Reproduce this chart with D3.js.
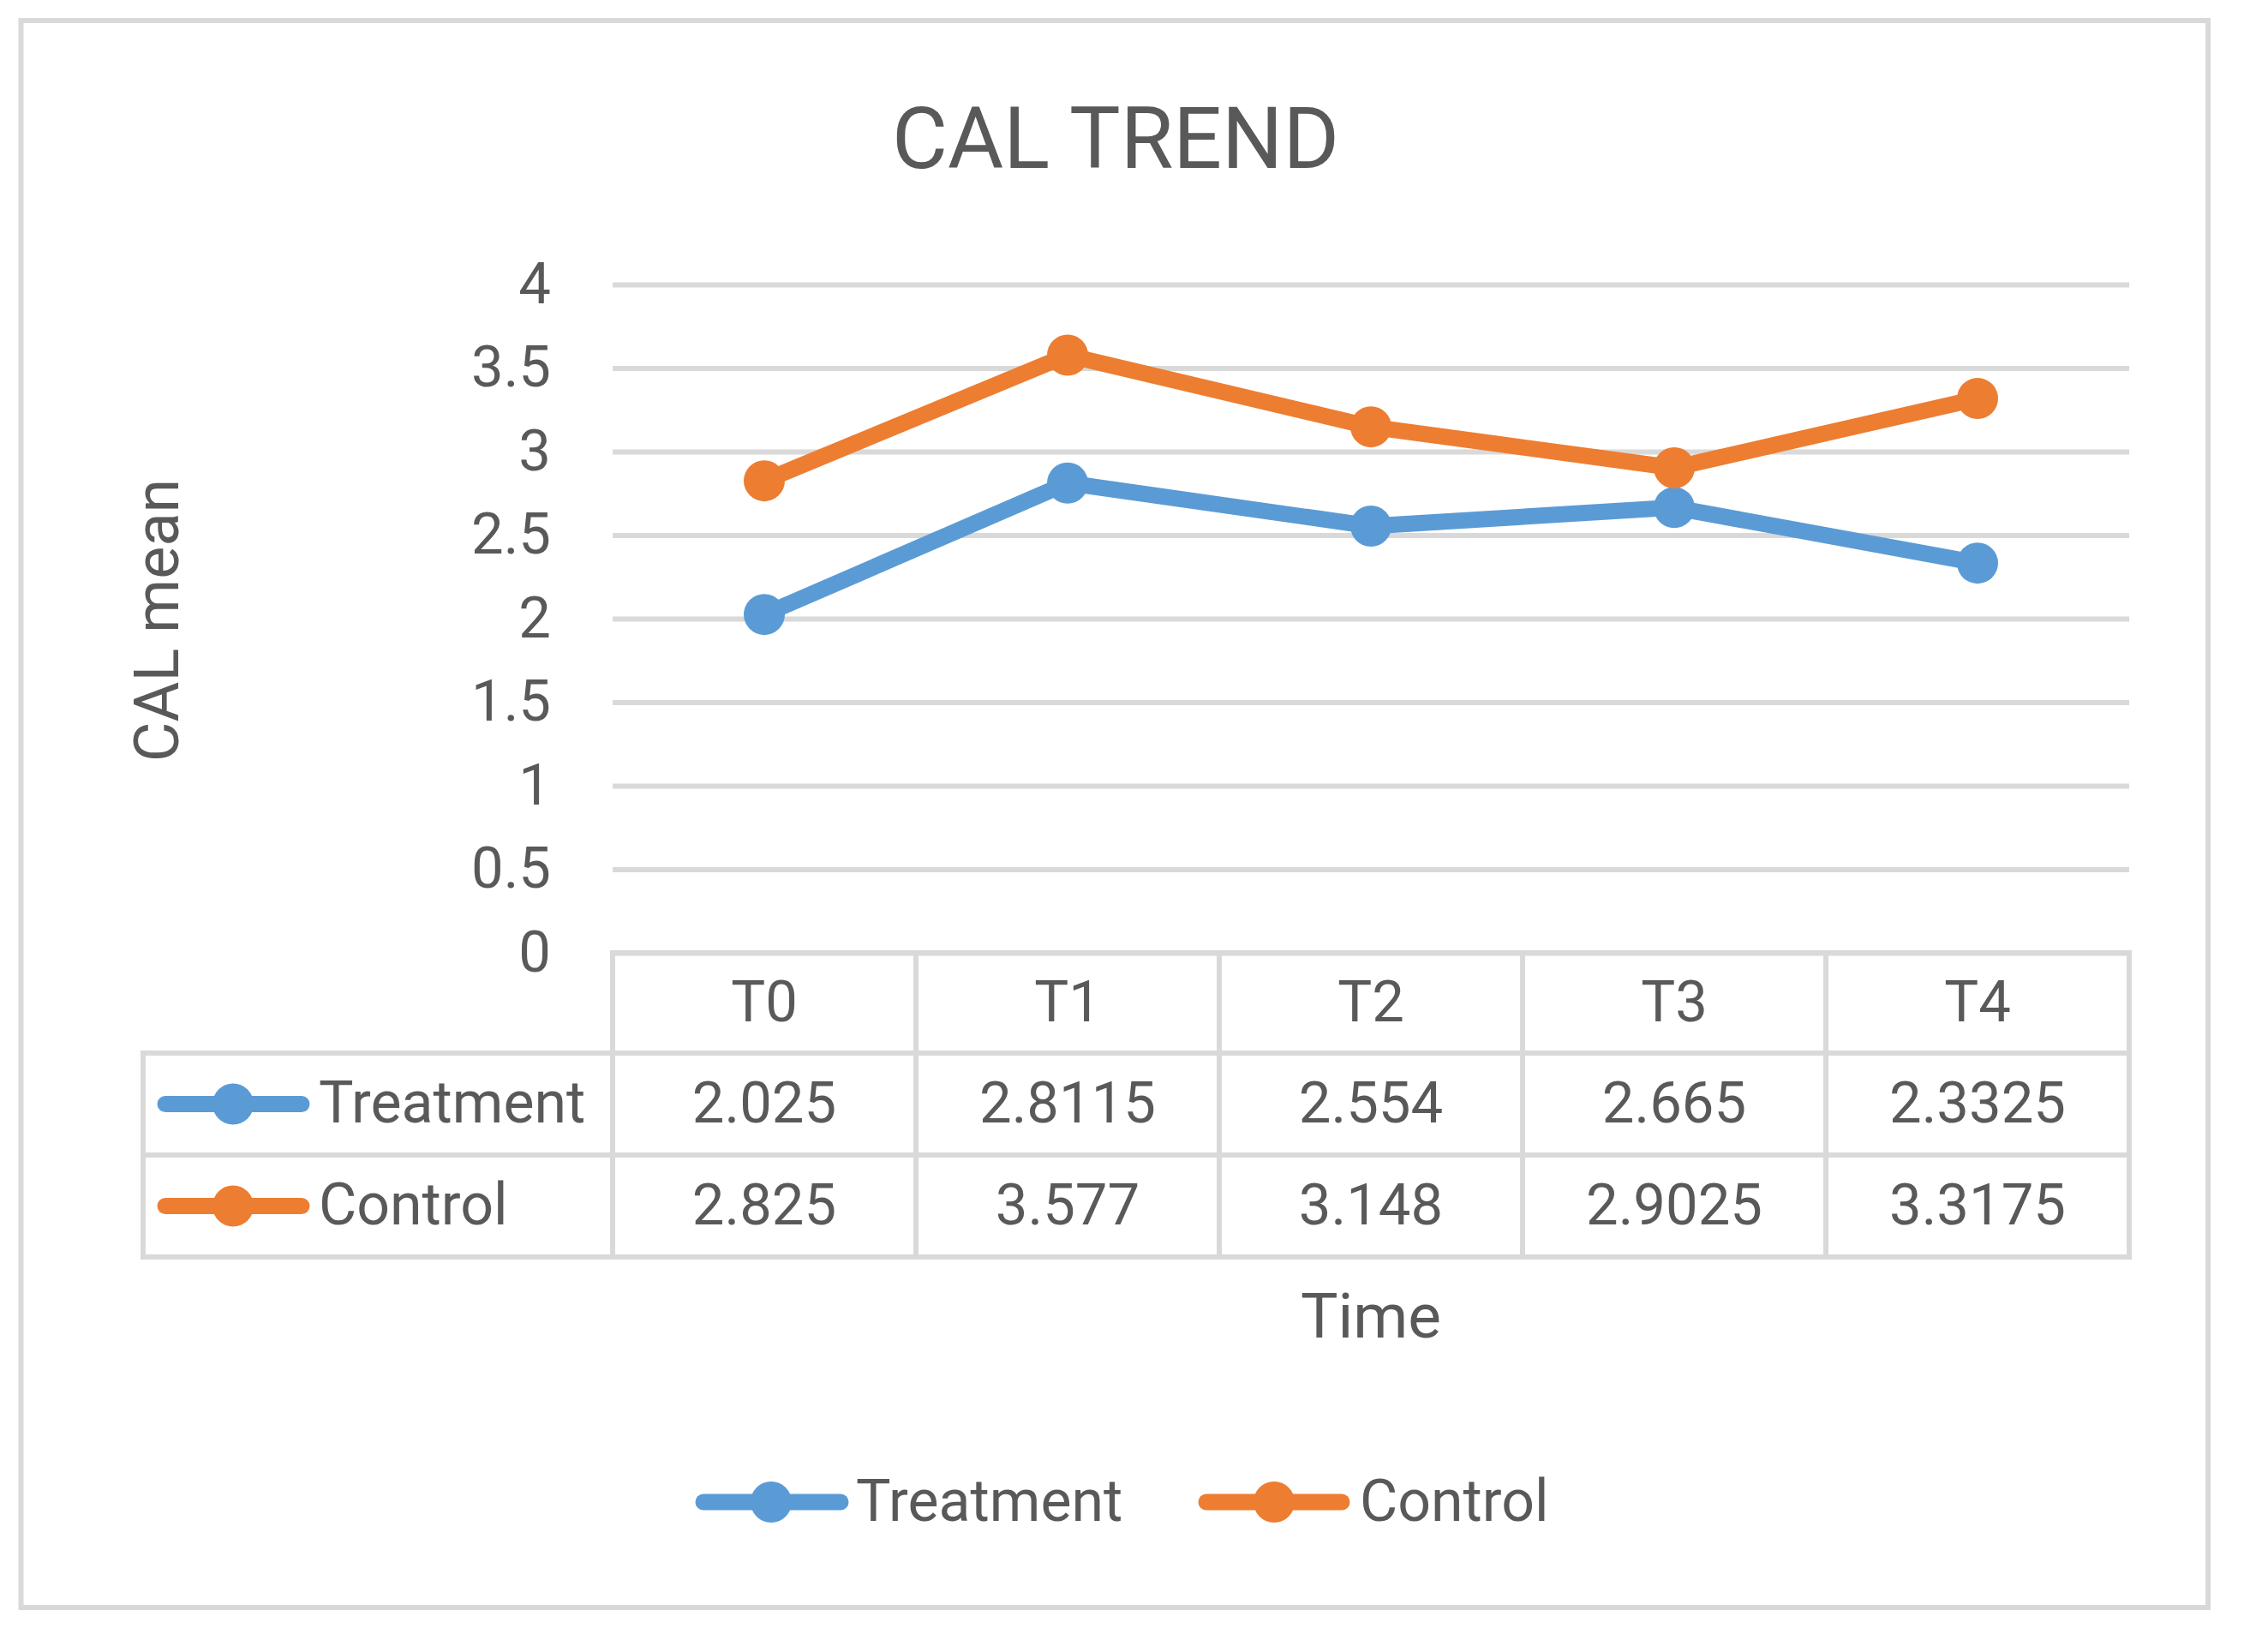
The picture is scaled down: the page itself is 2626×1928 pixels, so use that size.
<!DOCTYPE html>
<html>
<head>
<meta charset="utf-8">
<script src="https://cdn.jsdelivr.net/npm/d3@7/dist/d3.min.js"></script>
<style>
  html, body { margin: 0; padding: 0; background: #ffffff; }
  svg text { font-family: Roboto, "Liberation Sans", sans-serif; fill: #595959; }
</style>
</head>
<body>
<script>
// ---- data ----
const categories = ["T0", "T1", "T2", "T3", "T4"];
const treatmentValues = [2.025, 2.8115, 2.554, 2.665, 2.3325];
const controlValues = [2.825, 3.577, 3.148, 2.9025, 3.3175];
const treatmentLabels = ["2.025", "2.8115", "2.554", "2.665", "2.3325"];
const controlLabels = ["2.825", "3.577", "3.148", "2.9025", "3.3175"];
const seriesNames = ["Treatment", "Control"];
const seriesColors = ["#5B9BD5", "#ED7D31"];
const yTicks = [0, 0.5, 1, 1.5, 2, 2.5, 3, 3.5, 4];
const yTickLabels = ["0", "0.5", "1", "1.5", "2", "2.5", "3", "3.5", "4"];
const chartTitle = "CAL TREND";
const xTitle = "Time";
const yTitle = "CAL mean";

const series = [
  { name: seriesNames[0], color: seriesColors[0], values: treatmentValues, labels: treatmentLabels },
  { name: seriesNames[1], color: seriesColors[1], values: controlValues, labels: controlLabels }
];

// ---- layout ----
const W = 2626, H = 1928;
const plotLeft = 715, plotRight = 2485, plotTop = 332, plotBottom = 1112;
const tableLeft = 167;
const rowEdges = [1112, 1229, 1348, 1467];
const gridColor = "#D9D9D9";
const fontSmall = 67;
const textDy = "0.32em";

const svg = d3.select("body").append("svg")
  .attr("width", W).attr("height", H)
  .attr("viewBox", `0 0 ${W} ${H}`);

svg.append("rect").attr("width", W).attr("height", H).attr("fill", "#ffffff");

// outer border
svg.append("rect")
  .attr("x", 24.5).attr("y", 24).attr("width", 2552.5).attr("height", 1852)
  .attr("fill", "none").attr("stroke", gridColor).attr("stroke-width", 6);

const x = d3.scaleBand().domain(categories).range([plotLeft, plotRight]);
const y = d3.scaleLinear().domain([0, 4]).range([plotBottom, plotTop]);
const cx = c => x(c) + x.bandwidth() / 2;

// gridlines
const grid = svg.append("g").attr("transform", `translate(${plotLeft},0)`)
  .call(d3.axisLeft(y).tickValues(yTicks).tickSize(-(plotRight - plotLeft)).tickFormat(""));
grid.select(".domain").remove();
grid.selectAll(".tick line").attr("stroke", gridColor).attr("stroke-width", 6);

// y axis labels
const yAxis = svg.append("g").attr("transform", `translate(${plotLeft},0)`)
  .call(d3.axisLeft(y).tickValues(yTicks).tickSize(0).tickPadding(72)
    .tickFormat((d, i) => yTickLabels[i]));
yAxis.select(".domain").remove();
yAxis.selectAll(".tick text")
  .attr("font-size", fontSmall)
  .attr("font-family", "Roboto, 'Liberation Sans', sans-serif")
  .attr("fill", "#595959")
  .attr("dy", textDy);

// ---- data table ----
const tbl = svg.append("g");
tbl.append("line").attr("x1", plotLeft - 3).attr("x2", plotRight + 3)
  .attr("y1", rowEdges[0]).attr("y2", rowEdges[0]);
for (let i = 1; i < rowEdges.length; i++) {
  tbl.append("line").attr("x1", tableLeft - 3).attr("x2", plotRight + 3)
    .attr("y1", rowEdges[i]).attr("y2", rowEdges[i]);
}
const colEdges = categories.map(c => x(c)).concat([plotRight]);
colEdges.forEach(v => {
  tbl.append("line").attr("x1", v).attr("x2", v)
    .attr("y1", rowEdges[0]).attr("y2", rowEdges[3]);
});
tbl.append("line").attr("x1", tableLeft).attr("x2", tableLeft)
  .attr("y1", rowEdges[1]).attr("y2", rowEdges[3]);
tbl.selectAll("line").attr("stroke", gridColor).attr("stroke-width", 6);

// header text
tbl.selectAll("text.hdr").data(categories).enter().append("text")
  .attr("class", "hdr")
  .attr("x", d => cx(d))
  .attr("y", (rowEdges[0] + rowEdges[1]) / 2)
  .attr("dy", textDy)
  .attr("text-anchor", "middle")
  .attr("font-size", fontSmall)
  .text(d => d);

// series rows
series.forEach((s, si) => {
  const rowMid = (rowEdges[si + 1] + rowEdges[si + 2]) / 2;
  tbl.selectAll(`text.val${si}`).data(s.labels).enter().append("text")
    .attr("class", `val${si}`)
    .attr("x", (d, i) => cx(categories[i]))
    .attr("y", rowMid)
    .attr("dy", textDy)
    .attr("text-anchor", "middle")
    .attr("font-size", fontSmall)
    .text(d => d);
  tbl.append("line").attr("x1", 193).attr("x2", 352)
    .attr("y1", rowMid).attr("y2", rowMid)
    .attr("stroke", s.color).attr("stroke-width", 19).attr("stroke-linecap", "round");
  tbl.append("circle").attr("cx", 272).attr("cy", rowMid).attr("r", 24).attr("fill", s.color);
  tbl.append("text").attr("x", 372).attr("y", rowMid).attr("dy", textDy)
    .attr("font-size", 68).text(s.name);
});

// ---- lines ----
const line = d3.line().x((d, i) => cx(categories[i])).y(d => y(d));
series.forEach(s => {
  svg.append("path").datum(s.values)
    .attr("d", line)
    .attr("fill", "none")
    .attr("stroke", s.color)
    .attr("stroke-width", 19)
    .attr("stroke-linejoin", "round")
    .attr("stroke-linecap", "round");
  svg.selectAll(null).data(s.values).enter().append("circle")
    .attr("cx", (d, i) => cx(categories[i]))
    .attr("cy", d => y(d))
    .attr("r", 24)
    .attr("fill", s.color);
});

// ---- titles ----
svg.append("text").attr("x", 1302).attr("y", 196)
  .attr("text-anchor", "middle").attr("font-size", 100).text(chartTitle);

svg.append("text").attr("x", (plotLeft + plotRight) / 2).attr("y", 1561)
  .attr("text-anchor", "middle").attr("font-size", 73).text(xTitle);

svg.append("text")
  .attr("transform", "translate(208,724) rotate(-90)")
  .attr("text-anchor", "middle").attr("font-size", 72).text(yTitle);

// ---- bottom legend ----
const legendY = 1753;
const legendItems = [
  { x1: 821, x2: 981, mx: 900, tx: 999 },
  { x1: 1408, x2: 1566, mx: 1487, tx: 1587 }
];
const lg = svg.append("g");
series.forEach((s, i) => {
  const p = legendItems[i];
  lg.append("line").attr("x1", p.x1).attr("x2", p.x2)
    .attr("y1", legendY).attr("y2", legendY)
    .attr("stroke", s.color).attr("stroke-width", 19).attr("stroke-linecap", "round");
  lg.append("circle").attr("cx", p.mx).attr("cy", legendY).attr("r", 24).attr("fill", s.color);
  lg.append("text").attr("x", p.tx).attr("y", legendY).attr("dy", textDy)
    .attr("font-size", 68).text(s.name);
});
</script>
</body>
</html>
